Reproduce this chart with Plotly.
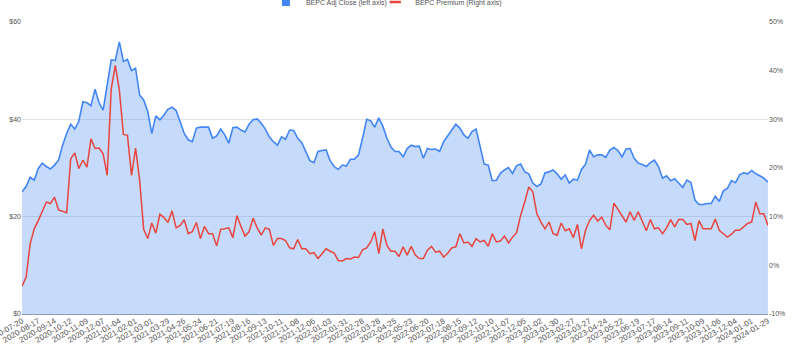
import pandas as pd
import plotly.graph_objects as go

start_date = "2020-07-20"
n_weeks = 185

adj_close = [
    25.1, 26.2, 28.1, 27.5, 29.9, 31.0, 30.3, 29.8, 30.6, 31.6,
    34.7, 37.1, 39.0, 38.0, 39.6, 43.6, 43.4, 42.8, 46.2, 43.4,
    41.9, 47.2, 52.2, 52.1, 55.9, 51.9, 52.3, 50.0, 50.5, 45.0,
    44.0, 41.6, 37.1, 40.7, 39.9, 40.9, 42.1, 42.5, 41.8, 39.5,
    37.1, 35.8, 35.4, 38.2, 38.4, 38.4, 38.4, 36.1, 36.6, 38.0,
    36.8, 35.1, 38.3, 38.4, 37.8, 37.4, 39.0, 39.9, 40.1, 39.2,
    38.0, 36.4, 35.4, 34.7, 36.4, 35.9, 37.8, 37.7, 36.1, 35.2,
    33.4, 31.5, 31.1, 33.4, 33.6, 33.7, 31.5, 30.3, 29.7, 30.6,
    30.4, 31.8, 31.8, 32.7, 36.1, 40.0, 39.7, 38.4, 40.3, 38.6,
    36.1, 34.3, 33.4, 33.4, 32.3, 34.0, 34.7, 34.4, 34.5, 32.0,
    34.0, 33.8, 33.9, 33.4, 35.4, 36.6, 37.8, 39.0, 38.2, 36.8,
    36.1, 37.5, 38.0, 34.4, 30.8, 30.6, 27.4, 27.5, 28.9, 29.6,
    30.1, 28.9, 30.5, 30.8, 29.2, 28.8, 26.9, 26.2, 26.7, 29.0,
    29.2, 29.6, 28.8, 27.7, 28.6, 26.9, 27.7, 27.5, 29.7, 30.8,
    33.7, 32.3, 32.7, 32.7, 32.2, 33.7, 34.2, 33.6, 32.3, 33.9,
    34.0, 32.0, 31.0, 30.7, 30.3, 31.1, 31.6, 30.3, 27.9, 28.4,
    27.4, 27.8, 26.9, 26.0, 27.5, 27.0, 23.4, 22.5, 22.5, 22.7,
    22.7, 24.2, 23.1, 25.3, 25.8, 27.4, 27.0, 28.6, 29.0, 28.8,
    29.5, 28.8, 28.4, 27.9, 27.1,
]

premium_pct = [
    -4.3, -2.4, 4.4, 7.5, 9.2, 11.3, 13.0, 12.7, 14.0, 11.4,
    11.1, 10.8, 21.9, 23.1, 19.9, 21.6, 20.2, 26.0, 24.0, 24.1,
    22.9, 18.5, 36.3, 41.1, 36.0, 26.9, 26.7, 18.5, 24.1, 17.5,
    7.4, 5.5, 8.7, 6.6, 10.5, 9.8, 8.8, 11.2, 7.7, 8.2,
    9.4, 6.5, 6.9, 8.8, 5.5, 8.0, 6.5, 6.5, 4.0, 7.4,
    7.5, 7.7, 5.7, 10.2, 8.0, 6.0, 6.9, 9.7, 7.7, 6.2,
    7.7, 7.4, 4.1, 5.5, 5.5, 5.1, 3.6, 3.4, 5.3, 3.4,
    3.4, 2.4, 2.6, 1.4, 2.4, 3.4, 2.9, 2.5, 1.0, 0.9,
    1.4, 1.3, 1.7, 1.6, 3.2, 3.6, 4.8, 6.9, 2.4, 7.5,
    4.1, 2.9, 2.9, 1.8, 3.8, 2.1, 3.9, 2.1, 1.4, 1.4,
    3.1, 3.9, 2.7, 2.9, 1.7, 2.5, 3.6, 3.8, 6.5, 4.6,
    4.8, 3.9, 5.5, 4.8, 5.1, 3.9, 6.5, 4.8, 5.0, 6.0,
    4.6, 5.8, 6.7, 10.3, 13.0, 16.1, 15.1, 10.6, 8.9, 7.5,
    8.9, 6.5, 6.2, 8.7, 7.1, 7.5, 5.7, 8.4, 3.4, 7.2,
    9.2, 10.3, 9.1, 9.9, 8.2, 7.3, 12.8, 11.4, 10.1, 8.9,
    11.0, 9.2, 11.0, 8.9, 7.1, 9.4, 7.5, 7.7, 6.5, 7.7,
    9.4, 7.9, 9.4, 9.4, 8.4, 8.6, 5.1, 9.2, 7.5, 7.5,
    7.5, 9.5, 7.2, 6.5, 5.8, 6.4, 7.2, 7.2, 8.0, 8.6,
    8.9, 13.0, 10.6, 10.6, 8.2,
]

left_ticks = [0, 20, 40, 60]
left_tick_text = ["$0", "$20", "$40", "$60"]
right_ticks = [-10, 0, 10, 20, 30, 40, 50]
right_tick_text = ["-10%", "0%", "10%", "20%", "30%", "40%", "50%"]

dates = pd.date_range(start_date, periods=n_weeks, freq="7D")
tick_dates = dates[::4]
tick_text = [d.strftime("%Y-%m-%d") for d in tick_dates]

BLUE = "#4285f4"
RED = "#e8453c"
FONT = "Liberation Sans, Arial, sans-serif"
TXT = "#555555"

fig = go.Figure()

fig.add_trace(go.Scatter(
    x=dates, y=adj_close, mode="lines", fill="tozeroy",
    line=dict(color=BLUE, width=1.6),
    fillcolor="rgba(66,133,244,0.30)",
    showlegend=False, yaxis="y",
))
fig.add_trace(go.Scatter(
    x=dates, y=premium_pct, mode="lines",
    line=dict(color=RED, width=1.5),
    showlegend=False, yaxis="y2",
))
# legend entries
fig.add_trace(go.Scatter(
    x=[None], y=[None], mode="markers",
    marker=dict(symbol="square", size=8, color=BLUE),
    name="BEPC Adj Close (left axis)", legend="legend",
))
fig.add_trace(go.Scatter(
    x=[None], y=[None], mode="markers",
    marker=dict(symbol="line-ew", size=8, color=RED,
                line=dict(color=RED, width=2.5)),
    name="BEPC Premium (Right axis)", yaxis="y2", legend="legend2",
))

pad = pd.Timedelta(hours=3)

fig.update_layout(
    width=800, height=350,
    margin=dict(l=22, r=32, t=22, b=36, autoexpand=False),
    paper_bgcolor="white", plot_bgcolor="white",
    font=dict(family=FONT, size=7, color=TXT),
    xaxis=dict(
        range=[dates[0] - pad, dates[-1] + pad],
        tickmode="array", tickvals=tick_dates, ticktext=tick_text,
        tickangle=-30, showgrid=False, zeroline=False, ticks="",
        tickfont=dict(size=8, color=TXT), showline=False,
        ticklabeloverflow="allow",
    ),
    yaxis=dict(
        range=[0, 60], tickmode="array", tickvals=left_ticks,
        ticktext=left_tick_text,
        showgrid=True, gridcolor="#e3e3e3", gridwidth=1,
        zeroline=True, zerolinecolor="#8f9bb3", zerolinewidth=1,
        ticks="", tickfont=dict(size=7, color=TXT),
    ),
    yaxis2=dict(
        range=[-10, 50], tickmode="array", tickvals=right_ticks,
        ticktext=right_tick_text, overlaying="y", side="right",
        showgrid=False, zeroline=False, ticks="",
        tickfont=dict(size=7, color=TXT),
    ),
    legend=dict(
        orientation="h", x=0.327, xanchor="left", y=1.0685, yanchor="middle",
        font=dict(size=7, color=TXT), bgcolor="rgba(0,0,0,0)",
    ),
    legend2=dict(
        orientation="h", x=0.4735, xanchor="left", y=1.0685, yanchor="middle",
        font=dict(size=7, color=TXT), bgcolor="rgba(0,0,0,0)",
    ),
    showlegend=True,
)

fig.write_html("out.html")
